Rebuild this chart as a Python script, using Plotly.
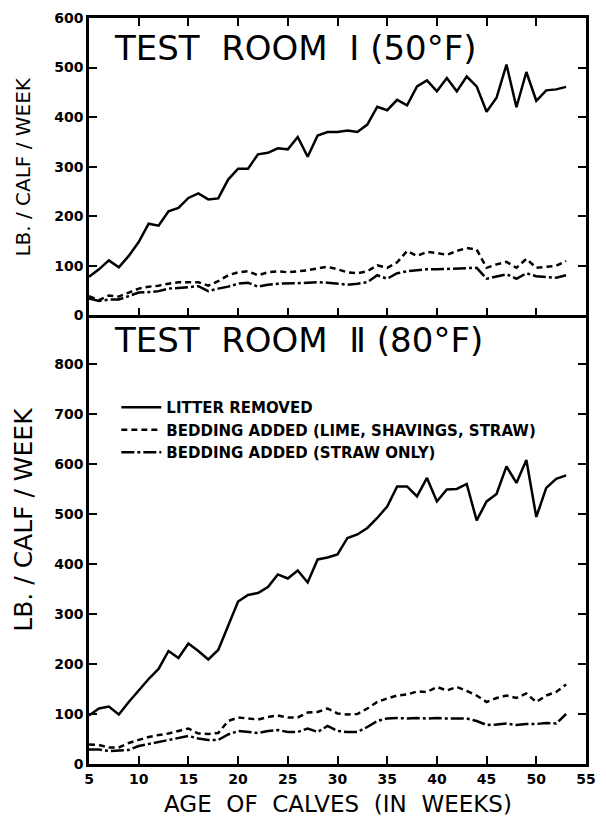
import plotly.graph_objects as go
from plotly.subplots import make_subplots

weeks = list(range(5, 54))

# Test Room I (50 F)
room1_litter = [78, 93, 111, 97, 120, 148, 185, 181, 210, 217, 237, 246, 234, 236, 274, 296,
                296, 325, 328, 337, 335, 360, 320, 363, 370, 370, 373, 370, 385, 421, 414, 435,
                424, 462, 474, 452, 479, 452, 482, 462, 411, 439, 506, 420, 491, 433, 454, 456, 461]
room1_lime = [39, 31, 40, 38, 46, 54, 58, 60, 64, 67, 67, 67, 60, 69, 81, 87,
              89, 81, 87, 89, 87, 89, 91, 95, 98, 93, 87, 85, 89, 101, 96, 107,
              130, 120, 128, 126, 122, 130, 136, 133, 96, 103, 108, 96, 114, 96, 98, 100, 110]
room1_straw = [34, 29, 32, 32, 39, 46, 47, 49, 54, 55, 57, 59, 49, 54, 58, 64,
               66, 58, 62, 64, 64, 65, 66, 67, 66, 64, 62, 64, 67, 81, 74, 85,
               89, 91, 93, 93, 94, 94, 96, 96, 74, 79, 83, 74, 85, 79, 78, 76, 81]

# Test Room II (80 F)
room2_litter = [97, 111, 115, 99, 124, 147, 170, 190, 226, 212, 241, 226, 209, 228, 277, 325,
                338, 342, 354, 379, 371, 387, 363, 409, 413, 419, 452, 459, 472, 492, 515, 555,
                555, 535, 572, 525, 549, 550, 560, 487, 525, 540, 595, 562, 608, 494, 552, 570, 577]
room2_lime = [39, 38, 33, 33, 42, 48, 54, 58, 61, 66, 71, 61, 60, 62, 86, 93,
              91, 89, 94, 97, 93, 93, 103, 104, 111, 101, 99, 100, 111, 124, 131, 137,
              139, 145, 144, 154, 147, 154, 146, 137, 124, 132, 137, 132, 141, 124, 137, 144, 159]
room2_straw = [29, 29, 26, 27, 28, 36, 40, 43, 48, 52, 56, 51, 48, 48, 59, 66,
               64, 62, 66, 68, 64, 64, 71, 64, 76, 66, 64, 64, 74, 86, 91, 92,
               91, 92, 91, 92, 91, 91, 91, 86, 78, 79, 81, 78, 80, 80, 82, 81, 100]

series_names = ["LITTER REMOVED",
                "BEDDING ADDED (LIME, SHAVINGS, STRAW)",
                "BEDDING ADDED (STRAW ONLY)"]
dashes = ["solid", "6px,4px", "13px,3px,3px,3px"]

fig = make_subplots(rows=2, cols=1, shared_xaxes=True, vertical_spacing=0,
                    row_heights=[299 / 750, 451 / 750])

for i, ys in enumerate([room1_litter, room1_lime, room1_straw]):
    fig.add_trace(go.Scatter(x=weeks, y=ys, mode="lines", name=series_names[i],
                             line=dict(color="black", width=2.5, dash=dashes[i]),
                             showlegend=False), row=1, col=1)
for i, ys in enumerate([room2_litter, room2_lime, room2_straw]):
    fig.add_trace(go.Scatter(x=weeks, y=ys, mode="lines", name=series_names[i],
                             line=dict(color="black", width=2.5, dash=dashes[i]),
                             showlegend=True), row=2, col=1)

tick_font = dict(family="DejaVu Sans", size=14, color="black", weight="bold")
axis_common = dict(showline=True, linecolor="black", linewidth=2.5, ticks="inside",
                   ticklen=8, tickwidth=2, tickcolor="black", showgrid=False,
                   zeroline=False, tickfont=tick_font, ticklabeloverflow="allow")

fig.update_xaxes(range=[5, 55], tick0=5, dtick=5, **axis_common)
fig.update_xaxes(showticklabels=False, mirror="ticks", row=1, col=1)
fig.update_xaxes(mirror=False, row=2, col=1)
fig.update_yaxes(mirror="ticks", **axis_common)
fig.update_yaxes(range=[0, 600], tickvals=[0, 100, 200, 300, 400, 500, 600], row=1, col=1)
fig.update_yaxes(range=[0, 897], tickvals=[0, 100, 200, 300, 400, 500, 600, 700, 800], row=2, col=1)

# page body keeps an 8px margin, so the figure is sized 16px smaller
fig.update_layout(
    width=590, height=808,
    margin=dict(l=81, r=2, t=6, b=52),
    plot_bgcolor="white", paper_bgcolor="white",
    font=dict(family="DejaVu Sans", color="black"),
    legend=dict(x=0.055, y=0.50, xanchor="left", yanchor="top",
                font=dict(family="DejaVu Sans", size=15, color="black", weight="bold"),
                bgcolor="rgba(0,0,0,0)", itemwidth=40, tracegroupgap=0),
    annotations=[
        dict(text="TEST  ROOM  Ⅰ (50°F)", x=0.047, y=0.96, xref="paper", yref="paper",
             xanchor="left", yanchor="middle", showarrow=False,
             font=dict(family="DejaVu Sans", size=34, color="black")),
        dict(text="TEST  ROOM  Ⅱ (80°F)", x=0.047, y=0.568, xref="paper", yref="paper",
             xanchor="left", yanchor="middle", showarrow=False,
             font=dict(family="DejaVu Sans", size=34, color="black")),
        dict(text="LB. / CALF / WEEK", x=-0.132, y=0.80, xref="paper", yref="paper",
             xanchor="center", yanchor="middle", textangle=-90, showarrow=False,
             font=dict(family="DejaVu Sans", size=20, color="black")),
        dict(text="LB. / CALF / WEEK", x=-0.132, y=0.328, xref="paper", yref="paper",
             xanchor="center", yanchor="middle", textangle=-90, showarrow=False,
             font=dict(family="DejaVu Sans", size=25, color="black")),
        dict(text="AGE  OF  CALVES  (IN  WEEKS)", x=0.5, y=-0.053, xref="paper", yref="paper",
             xanchor="center", yanchor="middle", showarrow=False,
             font=dict(family="DejaVu Sans", size=23, color="black")),
    ],
)

fig.write_html("out.html")
